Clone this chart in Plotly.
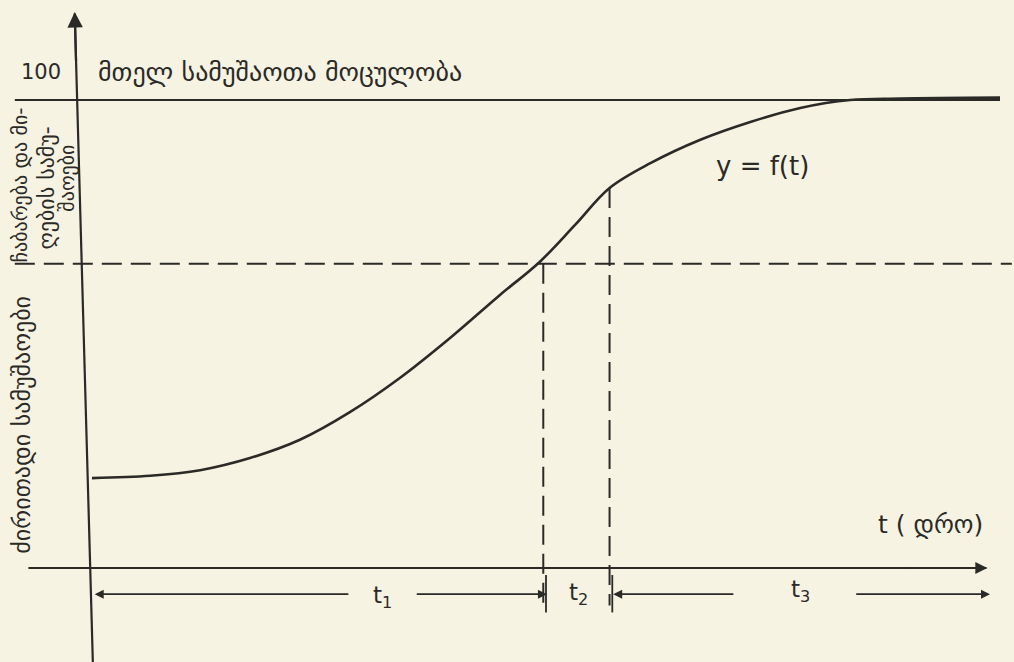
import plotly.graph_objects as go

# S-curve of accumulated work volume (percent) against time
t_curve = [0, 6.4, 11.9, 17.4, 22.9, 28.4, 33.9, 39.4, 44.9, 49.3, 53.2, 57.0,
           61.5, 67.0, 72.5, 78.0, 83.5, 89.0, 100]
y_curve = [19.2, 19.7, 20.9, 23.5, 27.4, 33.3, 40.6, 49.1, 58.3, 65.4, 73.3, 81.2,
           86.5, 91.5, 95.3, 98.3, 100.0, 100.3, 100.5]

full_level = 100
split_level = 65
t1_end = 49.7
t2_end = 57.0

title_text = "მთელ სამუშაოთა მოცულობა"
upper_label = ["ჩაბარება და მი-", "ღების სამუ-", "შაოები"]
lower_label = "ძირითადი სამუშაოები"

INK = "#2b2a27"
PAPER = "#f6f3e3"
FONT = "DejaVu Sans"

fig = go.Figure()

# main curve
fig.add_trace(go.Scatter(x=t_curve, y=y_curve, mode="lines",
                         line=dict(color=INK, width=2.6, shape="spline"),
                         hoverinfo="skip", showlegend=False))

# 100 % line
fig.add_trace(go.Scatter(x=[-8.5, 100], y=[full_level, full_level], mode="lines",
                         line=dict(color=INK, width=2.2), hoverinfo="skip", showlegend=False))
# dashed level
fig.add_trace(go.Scatter(x=[-8.5, 101.3], y=[split_level, split_level], mode="lines",
                         line=dict(color=INK, width=2, dash="20px,9px"),
                         hoverinfo="skip", showlegend=False))
# dashed verticals at phase boundaries
for tb, yb in [(t1_end, split_level), (t2_end, 81.2)]:
    fig.add_trace(go.Scatter(x=[tb, tb], y=[yb, -8], mode="lines",
                             line=dict(color=INK, width=2, dash="20px,9px"),
                             hoverinfo="skip", showlegend=False))
    fig.add_shape(type="line", x0=tb + 0.3, x1=tb + 0.3, y0=-1.5, y1=-9.5,
                  line=dict(color=INK, width=1.8))

# axes
fig.add_shape(type="line", x0=-1.9, y0=118.5, x1=0.1, y1=-20.5,
              line=dict(color=INK, width=2.2))
fig.add_shape(type="line", x0=-7, y0=0, x1=98.5, y1=0,
              line=dict(color=INK, width=2.2))

annotations = []
# axis arrowheads
annotations.append(dict(x=-1.9, y=118.8, ax=-1.75, ay=108, xref="x", yref="y",
                        axref="x", ayref="y", showarrow=True, arrowhead=2,
                        arrowsize=1.4, arrowwidth=2.2, arrowcolor=INK, text=""))
annotations.append(dict(x=98.6, y=0, ax=90, ay=0, xref="x", yref="y",
                        axref="x", ayref="y", showarrow=True, arrowhead=2,
                        arrowsize=1.2, arrowwidth=2, arrowcolor=INK, text=""))

# dimension line segments with arrows
dim_y = -5.6
for head, tail in [(0.3, 28.4), (t1_end + 0.4, 35.6), (t2_end + 0.4, 70.8), (98.9, 84.0)]:
    annotations.append(dict(x=head, y=dim_y, ax=tail, ay=dim_y, xref="x", yref="y",
                            axref="x", ayref="y", showarrow=True, arrowhead=2,
                            arrowsize=1, arrowwidth=1.8, arrowcolor=INK, text=""))

def label(text, x, y, size, angle=0, xanchor="center"):
    annotations.append(dict(x=x, y=y, xref="x", yref="y", text=text, showarrow=False,
                            textangle=angle, xanchor=xanchor, yanchor="middle",
                            font=dict(family=FONT, size=size, color=INK)))

label("100", -5.6, 106, 21)
label(title_text, 0.4, 106, 26, xanchor="left")
label("y = f(t)", 73.8, 86.0, 26)
label("t ( დრო)", 92.3, 9.3, 25)
label("t<sub>1</sub>", 32.0, -6.2, 23)
label("t<sub>2</sub>", 53.6, -5.6, 23)
label("t<sub>3</sub>", 78.0, -4.9, 23)

label(upper_label[0], -7.9, 81.8, 20, angle=-90)
label(upper_label[1], -5.0, 81.2, 22, angle=-90)
label(upper_label[2], -2.7, 83.3, 20, angle=-90)
label(lower_label, -7.7, 30.6, 24, angle=-90)

fig.update_layout(
    width=1014, height=662,
    margin=dict(l=0, r=0, t=0, b=0),
    paper_bgcolor=PAPER, plot_bgcolor=PAPER,
    xaxis=dict(range=[-10.13, 101.54], visible=False, fixedrange=True),
    yaxis=dict(range=[-20.09, 121.37], visible=False, fixedrange=True),
    annotations=annotations,
    showlegend=False,
)

fig.write_html("out.html", config={"displayModeBar": False},
               post_script="document.body.style.margin='0';document.body.style.background='%s';" % PAPER)
